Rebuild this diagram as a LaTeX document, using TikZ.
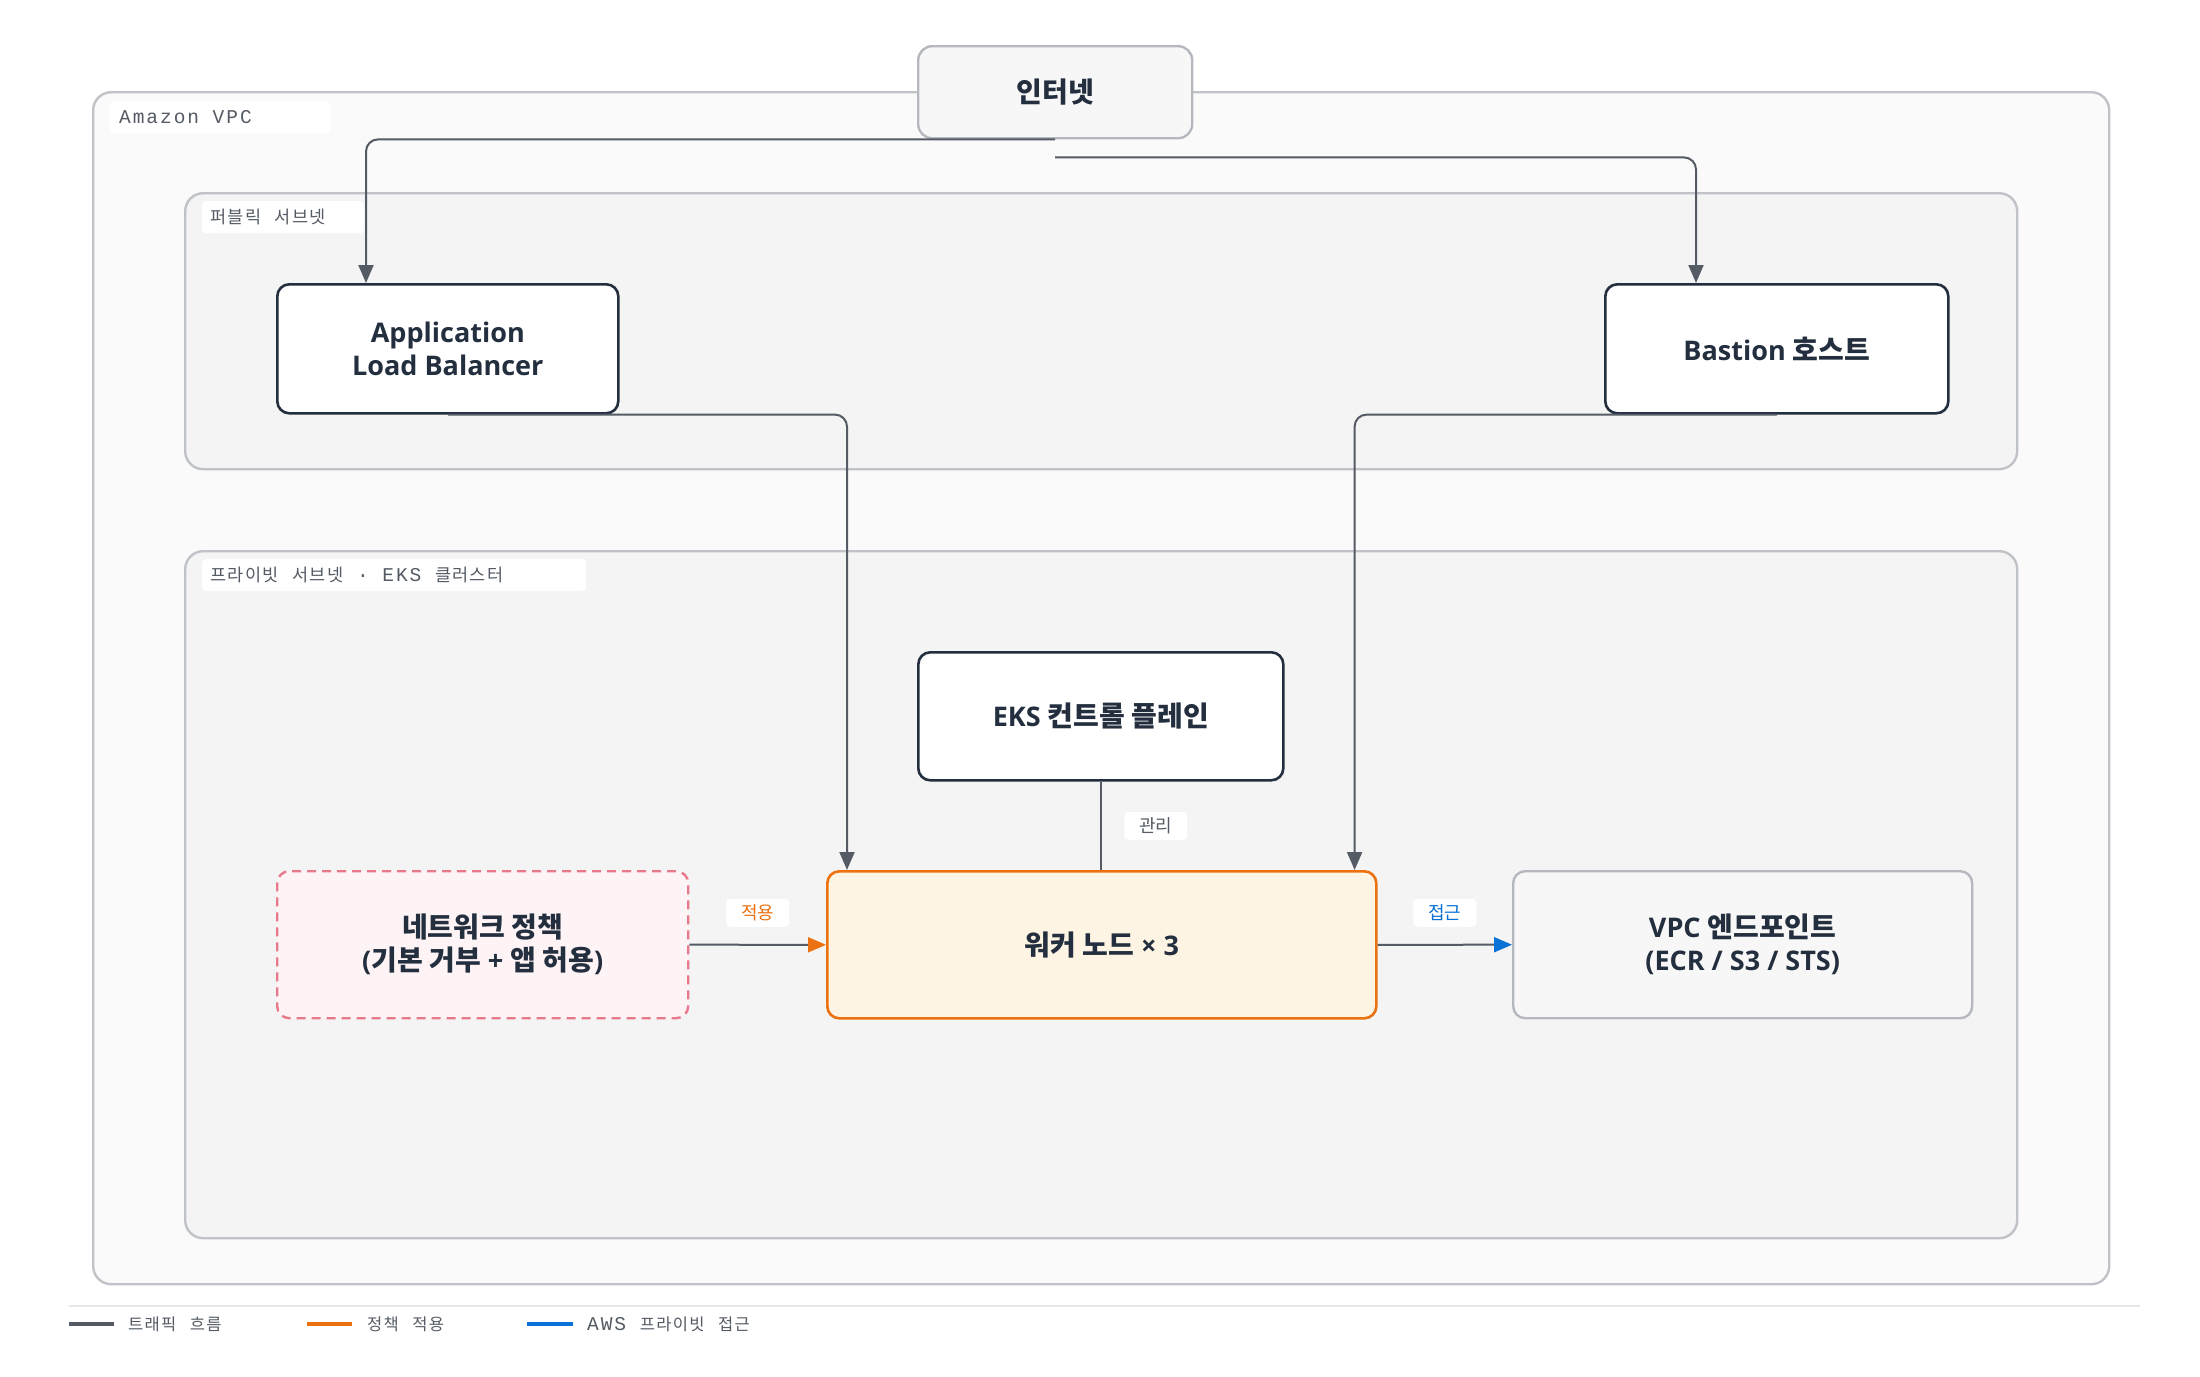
\documentclass[tikz,border=0pt]{standalone}
\usepackage{fontspec}
\setmainfont{Open Sans}[Scale=0.965]
\newfontfamily\kr{Noto Sans CJK KR}
\newfontfamily\mlat{Liberation Mono}[LetterSpace=10]
\newfontfamily\mkor{Noto Sans CJK KR}[LetterSpace=8]
\usetikzlibrary{arrows.meta}
\newcommand\hk[1]{{\kr #1}}
\newcommand\mlt[1]{{\fontsize{19.5}{24}\selectfont\mlat #1}}
\newcommand\mko[1]{{\fontsize{17.5}{24}\selectfont\mkor #1}}
\newcommand\mkl[1]{{\fontsize{16.5}{24}\selectfont\mkor #1}}
\newcommand\msp{\hspace*{13.6pt}}
\definecolor{ink}{HTML}{232F3E}
\definecolor{flowgray}{HTML}{545B64}
\definecolor{cbord}{HTML}{BFC2C7}
\definecolor{vpcfill}{HTML}{FAFAFA}
\definecolor{subfill}{HTML}{F4F4F4}
\definecolor{inetfill}{HTML}{F7F7F7}
\definecolor{inetbord}{HTML}{B5B9BF}
\definecolor{aorange}{HTML}{EC7211}
\definecolor{workfill}{HTML}{FEF4E4}
\definecolor{pinkb}{HTML}{E8798B}
\definecolor{pinkfill}{HTML}{FFF4F5}
\definecolor{ablue}{HTML}{0A72D6}
\definecolor{labgray}{HTML}{545B64}
\definecolor{sepgray}{HTML}{E6E7E9}
\begin{document}
\begin{tikzpicture}[x=1pt,y=-1pt,
  container/.style={draw=cbord, line width=2.4pt, rounded corners=18pt, anchor=north west, inner sep=0pt},
  box/.style={draw=ink, line width=2.6pt, fill=white, rounded corners=12pt, anchor=north west, inner sep=0pt, align=center, text=ink, font=\fontsize{28}{33}\selectfont\bfseries},
  labbg/.style={fill=white, rounded corners=4pt, anchor=north west, inner sep=0pt, minimum height=32pt},
  labtext/.style={anchor=west, inner sep=0pt, text=labgray},
  flow/.style={draw=flowgray, line width=2pt, rounded corners=12pt, -{Triangle[length=18pt,width=15pt]}},
  plain/.style={draw=flowgray, line width=2pt},
  elab/.style={fill=white, rounded corners=4pt, inner sep=0pt, minimum width=63pt, minimum height=28pt, font=\fontsize{18}{20}\selectfont\kr},
  lgline/.style={line width=3.4pt},
  lgtext/.style={anchor=west, inner sep=0pt, text=labgray}
]
\useasboundingbox (0,0) rectangle (2200,1376);
\fill[white] (0,0) rectangle (2200,1376);

% containers
\node[container, fill=vpcfill, minimum width=2016pt, minimum height=1192pt] (vpc) at (92,91) {};
\node[container, fill=subfill, minimum width=1832pt, minimum height=276pt] (pub) at (184,192) {};
\node[container, fill=subfill, minimum width=1832pt, minimum height=687pt] (priv) at (184,550) {};

% container labels
\node[labbg, minimum width=220pt] (vpclabbg) at (110,101) {};
\node[labtext] (vpclab) at (119,117) {\mlt{Amazon}\msp\mlt{VPC}};
\node[labbg, minimum width=162pt] (publabbg) at (202,201) {};
\node[labtext] (publab) at (210,217) {\mko{퍼블릭}\msp\mko{서브넷}};
\node[labbg, minimum width=384pt] (privlabbg) at (202,559) {};
\node[labtext] (privlab) at (210,575) {\mko{프라이빗}\msp\mko{서브넷}\msp\mlt{·}\msp\mlt{EKS}\msp\mko{클러스터}};

% nodes
\node[box, draw=inetbord, fill=inetfill, rounded corners=14pt, line width=2.4pt, minimum width=274pt, minimum height=92pt] (inet) at (917,45) {\hk{인터넷}};
\node[box, minimum width=341pt, minimum height=129pt] (alb) at (276,283) {Application\\Load Balancer};
\node[box, minimum width=343pt, minimum height=129pt] (bastion) at (1604,283) {Bastion \hk{호스트}};
\node[box, minimum width=365pt, minimum height=128pt] (eks) at (917,651) {EKS \hk{컨트롤 플레인}};
\node[box, draw=pinkb, fill=pinkfill, dash pattern=on 9pt off 6pt, line width=2.4pt, minimum width=411pt, minimum height=147pt] (policy) at (276,870) {\hk{네트워크 정책}\\(\hk{기본 거부} + \hk{앱 허용})};
\node[box, draw=aorange, fill=workfill, line width=2.6pt, minimum width=549pt, minimum height=147pt] (worker) at (826,870) {\hk{워커 노드} × 3};
\node[box, draw=inetbord, fill=inetfill, line width=2.4pt, minimum width=459pt, minimum height=147pt] (vpce) at (1512,870) {VPC \hk{엔드포인트}\\(ECR / S3 / STS)};

% connectors
\draw[flow] (inet.south) -| ([xshift=90pt]alb.north west);
\draw[flow] ([yshift=-18pt]inet.south) -| ([xshift=92pt]bastion.north west);
\draw[flow] (alb.south) -| ([xshift=21pt]worker.north west);
\draw[flow] (bastion.south) -| ([xshift=-23pt]worker.north east);
\draw[plain] (eks.south) -- (eks.south |- worker.north)
  node[pos=0.5, xshift=55pt, elab, text=labgray] {관리};
\draw[plain, -{Triangle[length=18pt,width=15pt,color=aorange]}] (policy.east) -- (worker.west)
  node[pos=0.5, yshift=32pt, elab, text=aorange] {적용};
\draw[plain, -{Triangle[length=18pt,width=15pt,color=ablue]}] (worker.east) -- (vpce.west)
  node[pos=0.5, yshift=32pt, elab, text=ablue] {접근};

% legend
\coordinate (sepL) at (69,1306);
\coordinate (sepR) at (2140,1306);
\draw[sepgray, line width=2pt] (sepL) -- (sepR);
\coordinate (g1a) at (69,1324);  \coordinate (g1b) at (114,1324);
\coordinate (g2a) at (307,1324); \coordinate (g2b) at (352,1324);
\coordinate (g3a) at (527,1324); \coordinate (g3b) at (573,1324);
\draw[lgline, flowgray] (g1a) -- (g1b);
\draw[lgline, aorange] (g2a) -- (g2b);
\draw[lgline, ablue] (g3a) -- (g3b);
\node[lgtext] (t1) at (128,1324) {\mkl{트래픽}\msp\mkl{흐름}};
\node[lgtext] (t2) at (367,1324) {\mkl{정책}\msp\mkl{적용}};
\node[lgtext] (t3) at (587,1324) {\mlt{AWS}\msp\mkl{프라이빗}\msp\mkl{접근}};
\end{tikzpicture}
\end{document}
